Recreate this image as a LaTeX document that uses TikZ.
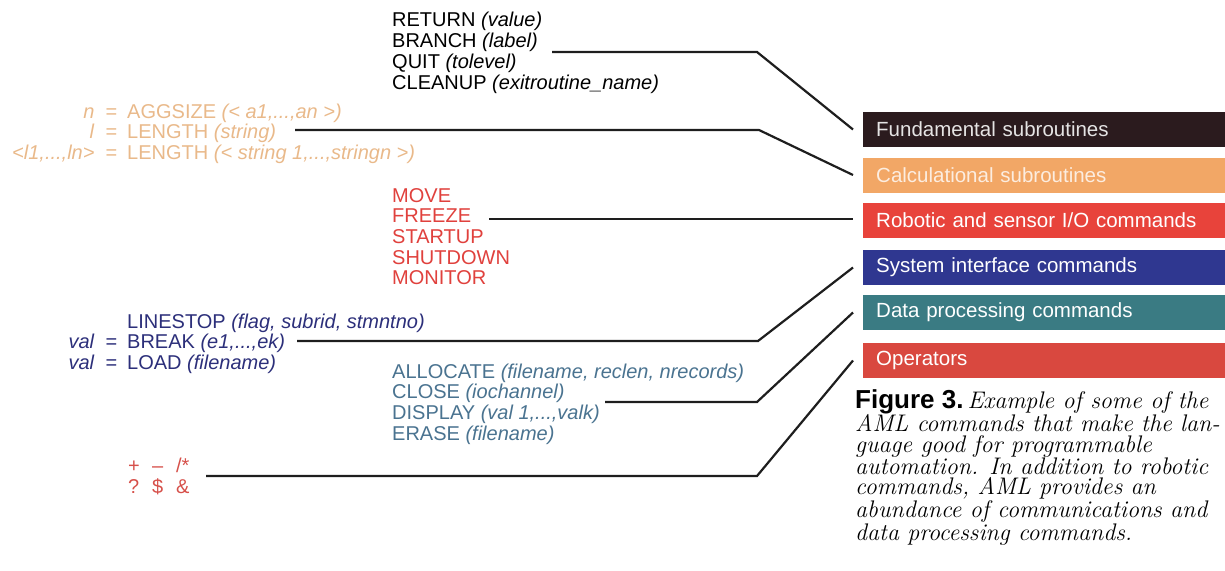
\documentclass[tikz,border=0pt]{standalone}
\usepackage{fontspec}
\newfontfamily\figsans{Liberation Sans}
\usetikzlibrary{positioning}

\definecolor{fundcol}{HTML}{2B1B1E}
\definecolor{calccol}{HTML}{F2A766}
\definecolor{robocol}{HTML}{E8433B}
\definecolor{syscol}{HTML}{2F3790}
\definecolor{datacol}{HTML}{3A7B83}
\definecolor{opcol}{HTML}{D9483F}
\definecolor{calctext}{HTML}{E9B98A}
\definecolor{robotext}{HTML}{E0413D}
\definecolor{systext}{HTML}{2C2F7A}
\definecolor{datatext}{HTML}{4A7390}
\definecolor{optext}{HTML}{D6504A}
\definecolor{linecol}{HTML}{1E1E1E}

\newcommand{\cmdlhs}[1]{\llap{\textit{#1}\hspace{11pt}=\hspace{10pt}}}

\tikzstyle{bar} = [rectangle, anchor=west, minimum width=362pt, minimum height=35pt, text width=336pt, inner xsep=13pt, inner ysep=0pt, align=left, text=white, font=\figsans\fontsize{20.5}{22}\selectfont]
\tikzstyle{cmds} = [anchor=base west, inner sep=0pt, font=\figsans\fontsize{20}{20.7}\selectfont]
\tikzstyle{conn} = [line width=2.2pt, draw=linecol, line join=miter]

\begin{document}
\begin{tikzpicture}[x=1pt, y=-1pt]
	\useasboundingbox (0,0) rectangle (1225,570);
	% Place nodes
	\node [bar, fill=fundcol, text=white!88!fundcol] (fund) at (863,129.5) {Fundamental subroutines};
	\node [bar, fill=calccol, text=white!80!calccol] (calc) at (863,175) {Calculational subroutines};
	\node [bar, fill=robocol] (robo) at (863,220.5) {Robotic and sensor I/O commands};
	\node [bar, fill=syscol] (sysif) at (863,267.5) {System interface commands};
	\node [bar, fill=datacol] (dataproc) at (863,312.5) {Data processing commands};
	\node [bar, fill=opcol] (oper) at (863,360.5) {Operators};

	\node [cmds, text=black] (fundcmds) at (392,27) {\begin{tabular}[t]{@{}l@{}}
		RETURN \textit{(value)}\\
		BRANCH \textit{(label)}\\
		QUIT \textit{(tolevel)}\\
		CLEANUP \textit{(exitroutine\_name)}
	\end{tabular}};
	\node [cmds, text=calctext] (calccmds) at (127,118) {\begin{tabular}[t]{@{}l@{}}
		\cmdlhs{n}AGGSIZE \textit{(< a1,...,an >)}\\
		\cmdlhs{l}LENGTH \textit{(string)}\\
		\cmdlhs{<l1,...,ln>}LENGTH \textit{(< string 1,...,stringn >)}
	\end{tabular}};
	\node [cmds, text=robotext] (robocmds) at (392,202) {\begin{tabular}[t]{@{}l@{}}
		MOVE\\
		FREEZE\\
		STARTUP\\
		SHUTDOWN\\
		MONITOR
	\end{tabular}};
	\node [cmds, text=systext] (syscmds) at (127,328) {\begin{tabular}[t]{@{}l@{}}
		LINESTOP \textit{(flag, subrid, stmntno)}\\
		\cmdlhs{val}BREAK \textit{(e1,...,ek)}\\
		\cmdlhs{val}LOAD \textit{(filename)}
	\end{tabular}};
	\node [cmds, text=datatext] (datacmds) at (392,378) {\begin{tabular}[t]{@{}l@{}}
		ALLOCATE \textit{(filename, reclen, nrecords)}\\
		CLOSE \textit{(iochannel)}\\
		DISPLAY \textit{(val 1,...,valk)}\\
		ERASE \textit{(filename)}
	\end{tabular}};
	\node [cmds, text=optext] (opcmds) at (128,472) {\begin{tabular}[t]{@{}l@{}}
		\makebox[24pt][l]{+}\makebox[24pt][l]{\textendash}/*\\
		\makebox[24pt][l]{?}\makebox[24pt][l]{\$}\&
	\end{tabular}};

	% caption, base is its last line
	\node [anchor=base west, inner sep=0pt, align=left, font=\fontsize{24}{20.3}\selectfont\itshape] (caption) at (855,540) {{\figsans\bfseries\upshape\fontsize{26}{20.3}\selectfont Figure 3.}\,Example of some of the\\
		AML commands that make the lan-\\
		guage good for programmable\\
		automation. In addition to robotic\\
		commands, AML provides an\\
		abundance of communications and\\
		data processing commands.};

	\coordinate (fundstart) at (552,52);
	\coordinate (fundbend) at (757,52);
	\coordinate (calcstart) at (295,130);
	\coordinate (calcbend) at (759,130);
	\coordinate (robostart) at (489,219);
	\coordinate (sysstart) at (297,341);
	\coordinate (sysbend) at (758,341);
	\coordinate (datastart) at (605,402);
	\coordinate (databend) at (757,402);
	\coordinate (opstart) at (206,476);
	\coordinate (opbend) at (757,476);

	% Draw edges
	\draw [conn] (fundstart) -- (fundbend) -- ([xshift=-10]fund.west);
	\draw [conn] (calcstart) -- (calcbend) -- ([xshift=-10]calc.west);
	\draw [conn] (robostart) -- ([xshift=-10]robo.west |- robostart);
	\draw [conn] (sysstart) -- (sysbend) -- ([xshift=-10]sysif.west);
	\draw [conn] (datastart) -- (databend) -- ([xshift=-10]dataproc.west);
	\draw [conn] (opstart) -- (opbend) -- ([xshift=-10]oper.west);
\end{tikzpicture}
\end{document}
